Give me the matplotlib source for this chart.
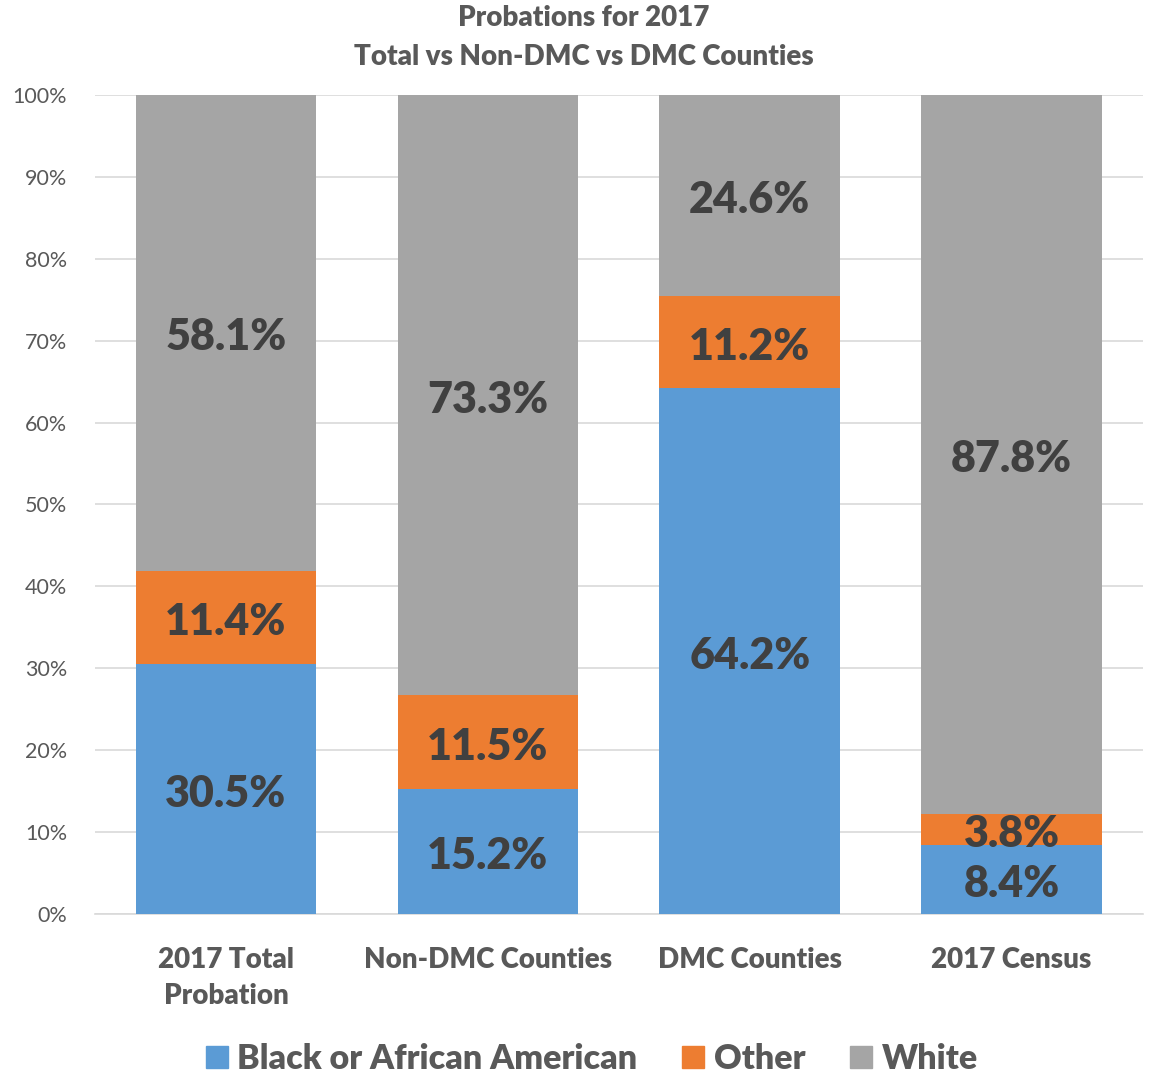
import matplotlib.pyplot as plt
import numpy as np

plt.rcParams['font.family'] = ['Lato', 'DejaVu Sans']

#data
categories = ["2017 Total\nProbation", "Non-DMC Counties", "DMC Counties", "2017 Census"]
black = [30.5, 15.2, 64.2, 8.4]
other = [11.4, 11.5, 11.2, 3.8]
white = [58.1, 73.3, 24.6, 87.8]
series_names = ["Black or African American", "Other", "White"]
colors = ["#5B9BD5", "#ED7D31", "#A5A5A5"]
yticks = [0, 10, 20, 30, 40, 50, 60, 70, 80, 90, 100]

fig = plt.figure(figsize=(11.53, 10.76), dpi=100)
ax = fig.add_axes([0.0824, 0.1506, 0.9086, 0.7611])

x = np.arange(len(categories))
width = 0.69
bottom = np.zeros(len(categories))
for vals, name, col in zip([black, other, white], series_names, colors):
    vals = np.array(vals)
    ax.bar(x, vals, width, bottom=bottom, color=col, label=name, zorder=3)
    for xi, b, v in zip(x, bottom, vals):
        # labels sit slightly below the segment middle, like the original
        ax.text(xi, b + v / 2 - 0.55, f"{v:.1f}%", ha="center", va="center",
                fontsize=31, fontweight="heavy", color="#404040", zorder=4)
    bottom = bottom + vals

ax.set_xlim(-0.5, len(categories) - 0.5)
ax.set_ylim(0, 100)
ax.set_yticks(yticks)
ax.set_yticklabels([f"{t}%" for t in yticks], fontsize=15.5, color="#595959")
ax.set_xticks(x)
ax.set_xticklabels(categories, fontsize=20, fontweight="heavy", color="#595959",
                   linespacing=1.45)
ax.tick_params(axis="both", length=0)
ax.tick_params(axis="x", pad=24)
ax.tick_params(axis="y", pad=20)
ax.grid(axis="y", color="#D9D9D9", linewidth=1.2, zorder=0)
for s in ["top", "right", "left"]:
    ax.spines[s].set_visible(False)
ax.spines["bottom"].set_color("#D9D9D9")
ax.spines["bottom"].set_linewidth(1.2)

fig.suptitle("Probations for 2017\nTotal vs Non-DMC vs DMC Counties", x=0.506, y=0.995,
             fontsize=20, fontweight="heavy", color="#595959", linespacing=1.6)

handles = [plt.Line2D([], [], marker="s", linestyle="", markersize=16, color=c) for c in colors]
fig.legend(handles, series_names, loc="center", bbox_to_anchor=(0.513, 0.016), ncol=3,
           frameon=False, prop={"size": 24.5, "weight": "heavy"}, labelcolor="#595959",
           handlelength=0.7, handletextpad=0.25, columnspacing=1.3)

fig.savefig("out.png", dpi=100)
